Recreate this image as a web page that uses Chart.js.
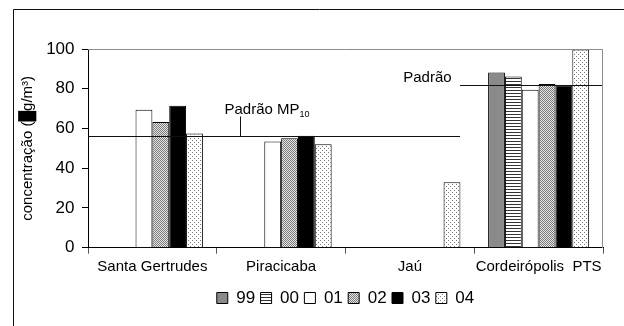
<!DOCTYPE html>
<html>
<head>
<meta charset="utf-8">
<script src="https://cdn.jsdelivr.net/npm/chart.js@4/dist/chart.umd.min.js"></script>
<style>
  html, body { margin: 0; padding: 0; background: #fff; }
  #wrap { position: relative; width: 624px; height: 326px; overflow: hidden; }
  canvas { display: block; }
</style>
</head>
<body>
<div id="wrap"><canvas id="c" width="624" height="326"></canvas></div>
<script>
// ---- data ----
const categories = ['Santa Gertrudes', 'Piracicaba', 'Jaú', 'Cordeirópolis  PTS'];
const years = ['99', '00', '01', '02', '03', '04'];
const s99 = [null, null, null, 88.2];
const s00 = [null, null, null, 86.2];
const s01 = [69.4, 53.4, null, 79.5];
const s02 = [63.2, 55.1, null, 82.4];
const s03 = [71.4, 56.4, null, 81.8];
const s04 = [57.5, 52.1, 33.0, 99.8];
const yTicks = [0, 20, 40, 60, 80, 100];
const standardValues = [56, 82];
const standardLabels = ['Padrão MP', 'Padrão'];
const standardSub = '10';
const yTitle = 'concentração (█g/m³)';

// ---- patterns ----
const canvas = document.getElementById('c');
const mainCtx = canvas.getContext('2d');
function tile(w, h, draw) {
  const t = document.createElement('canvas');
  t.width = w; t.height = h;
  const g = t.getContext('2d');
  draw(g);
  return mainCtx.createPattern(t, 'repeat');
}
const pStripes = tile(1, 3, g => {
  g.fillStyle = '#fff'; g.fillRect(0, 0, 1, 3);
  g.fillStyle = '#333'; g.fillRect(0, 0, 1, 1);
});
const pDense = tile(2, 2, g => {
  g.fillStyle = '#e6e6e6'; g.fillRect(0, 0, 2, 2);
  g.fillStyle = '#7a7a7a'; g.fillRect(0, 0, 1, 1); g.fillRect(1, 1, 1, 1);
});
const pDots = tile(4, 4, g => {
  g.fillStyle = '#fff'; g.fillRect(0, 0, 4, 4);
  g.fillStyle = '#777'; g.fillRect(0, 0, 1, 1); g.fillRect(2, 2, 1, 1);
});

const fills = ['#8a8a8a', pStripes, '#ffffff', pDense, '#000000', pDots];
const series = [s99, s00, s01, s02, s03, s04];

const FONT = "'Liberation Sans', Arial, sans-serif";
Chart.defaults.font.family = FONT;
Chart.defaults.font.size = 15;
Chart.defaults.color = '#000';

const decor = {
  id: 'decor',
  beforeDraw(chart) {
    const ctx = chart.ctx;
    ctx.save();
    ctx.strokeStyle = '#111';
    ctx.lineWidth = 1;
    ctx.beginPath();
    ctx.moveTo(13.5, 340);
    ctx.lineTo(13.5, 9.5);
    ctx.lineTo(640, 9.5);
    ctx.stroke();
    ctx.restore();
  },
  afterDatasetsDraw(chart) {
    const { ctx, chartArea: a, scales: { x, y } } = chart;
    ctx.save();
    // plot frame top / right (gray)
    ctx.strokeStyle = '#8c8c8c';
    ctx.lineWidth = 1;
    ctx.beginPath();
    ctx.moveTo(Math.round(a.left), Math.round(a.top) + 0.5);
    ctx.lineTo(Math.round(a.right) - 0.5, Math.round(a.top) + 0.5);
    ctx.lineTo(Math.round(a.right) - 0.5, Math.round(a.bottom));
    ctx.stroke();

    // standards
    const split = x.getPixelForValue(2.39);
    const y1 = Math.round(y.getPixelForValue(standardValues[0])) + 0.5;
    const y2 = Math.round(y.getPixelForValue(standardValues[1])) + 0.5;
    ctx.strokeStyle = '#111';
    ctx.beginPath();
    ctx.moveTo(a.left, y1); ctx.lineTo(split, y1);
    ctx.moveTo(split, y2); ctx.lineTo(a.right - 1, y2);
    // leader line
    const lx = Math.round(x.getPixelForValue(0.68)) + 0.5;
    ctx.moveTo(lx, y1); ctx.lineTo(lx, y1 - 20);
    ctx.stroke();

    ctx.fillStyle = '#000';
    ctx.textBaseline = 'alphabetic';
    ctx.textAlign = 'left';
    ctx.font = '15px ' + FONT;
    const tx = lx - 16;
    const ty = y1 - 22.5;
    ctx.fillText(standardLabels[0], tx, ty);
    const w = ctx.measureText(standardLabels[0]).width;
    ctx.font = '9px ' + FONT;
    ctx.fillText(standardSub, tx + w, ty + 2.5);

    ctx.font = '15px ' + FONT;
    ctx.textAlign = 'right';
    ctx.fillText(standardLabels[1], split - 8.5, y2 - 4);
    ctx.restore();
  }
};

new Chart(canvas, {
  type: 'bar',
  data: {
    labels: categories,
    datasets: years.map((yr, i) => ({
      label: yr,
      data: series[i],
      backgroundColor: fills[i],
      borderColor: '#000',
      borderWidth: 1,
      categoryPercentage: 0.785,
      barPercentage: 1.0
    }))
  },
  options: {
    responsive: false,
    animation: false,
    devicePixelRatio: 1,
    layout: { padding: { top: 49, right: 21, bottom: 9.5, left: 0 } },
    plugins: {
      legend: {
        position: 'bottom',
        fullSize: false,
        labels: { boxWidth: 11, boxHeight: 11, padding: 5.4, color: '#000', font: { size: 17 } }
      },
      tooltip: { enabled: false },
      title: { display: false }
    },
    scales: {
      x: {
        grid: { display: true, drawOnChartArea: false, drawTicks: true, tickLength: 6, color: '#555', offset: true },
        border: { display: true, color: '#000', width: 1 },
        ticks: { maxRotation: 0, minRotation: 0, autoSkip: false, padding: 4, color: '#000', font: { size: 15 } },
        afterFit(s) { s.height = 36.4; }
      },
      y: {
        min: 0, max: 100,
        afterBuildTicks(s) { s.ticks = yTicks.map(v => ({ value: v })); },
        grid: { display: true, drawOnChartArea: false, drawTicks: true, tickLength: 6, color: '#000' },
        border: { display: true, color: '#000', width: 1 },
        ticks: { padding: 7.5, color: '#000', font: { size: 17 } },
        title: { display: true, text: yTitle, color: '#000', font: { size: 15 }, padding: { top: 18.5, bottom: 0 } },
        afterFit(s) { s.width = 88; }
      }
    }
  },
  plugins: [decor]
});
</script>
</body>
</html>
